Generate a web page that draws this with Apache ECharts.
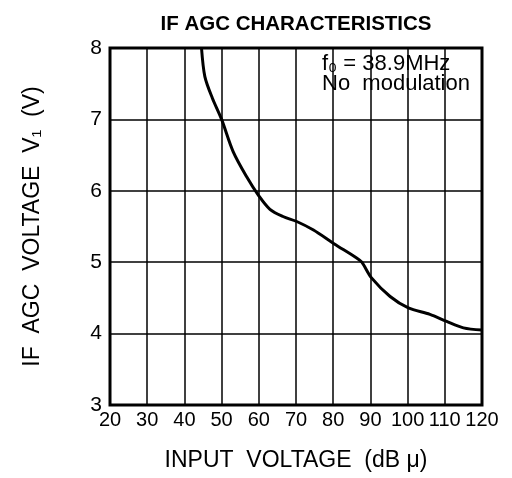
<!DOCTYPE html>
<html><head><meta charset="utf-8">
<script src="https://cdn.jsdelivr.net/npm/echarts@6/dist/echarts.min.js"></script>
<style>html,body{margin:0;padding:0;background:#fff}#c{width:512px;height:478px}</style>
</head><body><div id="c"></div>
<script>
const inputVoltage = [44.6, 45.5, 47.5, 50, 53.1, 56.7, 60, 63, 66.5, 70.2, 74.7, 80.2, 86.3, 87.7, 90.3, 95.3, 100.2, 106, 110.5, 115, 120];
const agcVoltage   = [8.0, 7.6, 7.3, 7.0, 6.55, 6.2, 5.93, 5.74, 5.64, 5.57, 5.45, 5.26, 5.06, 5.0, 4.78, 4.52, 4.36, 4.27, 4.17, 4.08, 4.05];
const xTicks = [20, 30, 40, 50, 60, 70, 80, 90, 100, 110, 120];
const yTicks = [3, 4, 5, 6, 7, 8];

const chart = echarts.init(document.getElementById('c'), null, {renderer: 'canvas'});
const font = 'Liberation Sans, Arial, sans-serif';
chart.setOption({
  animation: false,
  title: {
    text: 'IF AGC CHARACTERISTICS',
    left: 291, top: 9, textAlign: 'center',
    textStyle: {fontFamily: font, fontWeight: 'bold', fontSize: 20.5, color: '#000'}
  },
  grid: {left: 110, right: 30, top: 48, bottom: 73, show: true, borderColor: '#000', borderWidth: 3, backgroundColor: 'transparent'},
  xAxis: {
    type: 'value', min: xTicks[0], max: xTicks[xTicks.length - 1], interval: 10,
    name: 'INPUT  VOLTAGE  (dB μ)', nameLocation: 'middle', nameGap: 44,
    nameTextStyle: {fontFamily: font, fontSize: 23, color: '#000'},
    axisLine: {show: false}, axisTick: {show: false},
    axisLabel: {fontFamily: font, fontSize: 20, color: '#000', margin: 5, hideOverlap: false},
    splitLine: {show: true, lineStyle: {color: '#000', width: 1.5}}
  },
  yAxis: {
    type: 'value', min: yTicks[0], max: yTicks[yTicks.length - 1], interval: 1,
    name: 'IF  AGC  VOLTAGE  V₁  (V)', nameLocation: 'middle', nameGap: 66, nameRotate: 90,
    nameTextStyle: {fontFamily: font, fontSize: 23, color: '#000'},
    axisLine: {show: false}, axisTick: {show: false},
    axisLabel: {fontFamily: font, fontSize: 21, color: '#000', margin: 8},
    splitLine: {show: true, lineStyle: {color: '#000', width: 1.5}}
  },
  graphic: [{
    type: 'text', left: 322, top: 53,
    style: {text: 'f₀ = 38.9MHz\nNo  modulation', font: '22px ' + font, fill: '#000', lineHeight: 19.5, backgroundColor: '#fff'}
  }],
  series: [{
    type: 'line', smooth: 0.3, showSymbol: false, silent: true,
    data: inputVoltage.map((x, i) => [x, agcVoltage[i]]),
    lineStyle: {color: '#000', width: 3}
  }]
});
</script></body></html>
